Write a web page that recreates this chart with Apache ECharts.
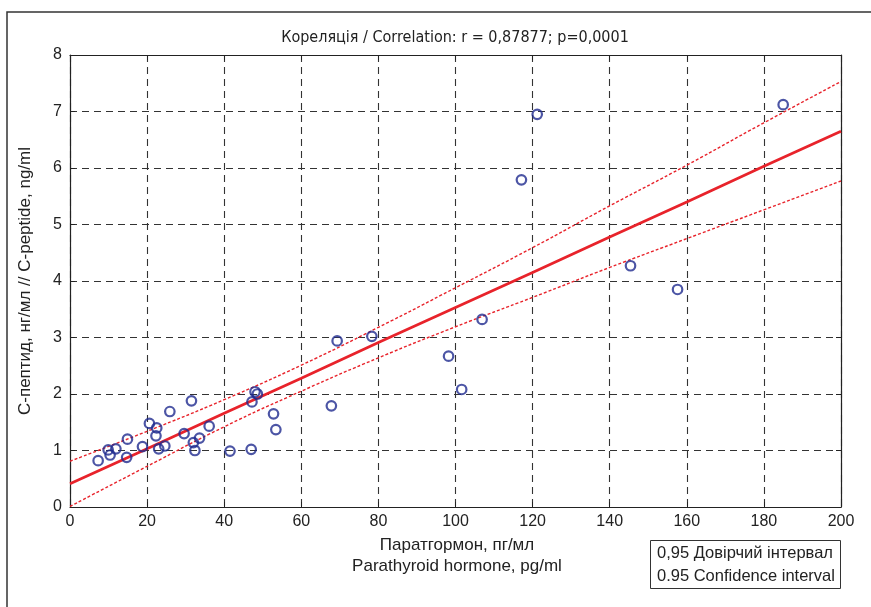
<!DOCTYPE html>
<html>
<head>
<meta charset="utf-8">
<script src="https://cdn.jsdelivr.net/npm/echarts@6/dist/echarts.min.js"></script>
<style>
  html, body { margin: 0; padding: 0; background: #fff; }
  #chart { width: 871px; height: 607px; }
</style>
</head>
<body>
<div id="chart"></div>
<script>
// точки: паратгормон (пг/мл) / С-пептид (нг/мл)
const pthValues = [7.3, 9.9, 10.4, 11.9, 14.7, 14.9, 18.8, 20.6, 22.5, 22.3, 23.0, 24.6, 25.9, 29.6,
  31.5, 32.0, 32.4, 33.6, 36.1, 41.5, 47.0, 47.2, 48.0, 48.6, 52.8, 53.4, 67.8, 69.3, 78.3,
  98.2, 101.6, 106.9, 117.1, 121.2, 145.4, 157.6, 185.0];
const cpepValues = [0.82, 1.01, 0.92, 1.03, 0.88, 1.20, 1.07, 1.48, 1.40, 1.26, 1.03, 1.08, 1.69, 1.30,
  1.88, 1.14, 1.00, 1.22, 1.43, 0.99, 1.02, 1.86, 2.04, 2.00, 1.65, 1.37, 1.79, 2.94, 3.02,
  2.67, 2.08, 3.32, 5.79, 6.95, 4.27, 3.85, 7.12];

// лінія регресії та довірчий інтервал
const fitX = [0, 20, 40, 60, 80, 100, 120, 140, 160, 180, 200];
const fitY = [0.41, 1.03, 1.66, 2.28, 2.91, 3.53, 4.15, 4.78, 5.40, 6.03, 6.65];
const upperY = [0.81, 1.34, 1.90, 2.51, 3.18, 3.88, 4.59, 5.33, 6.05, 6.80, 7.53];
const lowerY = [0.01, 0.72, 1.42, 2.05, 2.64, 3.19, 3.71, 4.24, 4.75, 5.26, 5.77];

const titleText = 'Кореляція / Correlation: r = 0,87877; p=0,0001';
const xNameUa = 'Паратгормон, пг/мл';
const xNameEn = 'Parathyroid hormone, pg/ml';
const yName = 'С-пептид, нг/мл // С-peptide, ng/ml';
const legendLines = ['0,95 Довірчий інтервал', '0.95 Confidence interval'];

const FONT = 'Arial, "Liberation Sans", Helvetica, sans-serif';
const NARROW = '"Liberation Sans Narrow", "Arial Narrow", "DejaVu Sans Condensed", sans-serif';

const zip = (xs, ys) => xs.map((x, i) => [x, ys[i]]);

const chart = echarts.init(document.getElementById('chart'), null, { renderer: 'canvas' });

const gridLine = { show: true, lineStyle: { color: '#333', type: [7, 5], width: 1.1 } };
const axisLine = { show: true, onZero: false, lineStyle: { color: '#222', width: 1.2 } };
const tick = { show: true, inside: true, length: 5, lineStyle: { color: '#222' } };
const label = { color: '#222', fontSize: 16, fontFamily: FONT };

const option = {
  animation: false,
  backgroundColor: '#fff',
  grid: { left: 70, right: 30, top: 55, bottom: 100, containLabel: false },
  xAxis: [
    {
      type: 'value', min: 0, max: 200, interval: 20, position: 'bottom',
      axisLine, axisTick: tick, splitLine: gridLine,
      axisLabel: { ...label, margin: 7 }
    },
    {
      type: 'value', min: 0, max: 200, interval: 20, position: 'top',
      axisLine, axisTick: tick, splitLine: { show: false }, axisLabel: { show: false }
    }
  ],
  yAxis: [
    {
      type: 'value', min: 0, max: 8, interval: 1, position: 'left',
      axisLine, axisTick: tick, splitLine: gridLine,
      axisLabel: { ...label, margin: 8 },
      name: yName, nameLocation: 'middle', nameGap: 36,
      nameTextStyle: { color: '#222', fontSize: 17, fontFamily: FONT }
    },
    {
      type: 'value', min: 0, max: 8, interval: 1, position: 'right',
      axisLine, axisTick: tick, splitLine: { show: false }, axisLabel: { show: false }
    }
  ],
  series: [
    {
      name: 'upper', type: 'line', data: zip(fitX, upperY), smooth: true, symbol: 'none',
      lineStyle: { color: '#e8232b', width: 1.4, type: [3, 2] }, z: 3
    },
    {
      name: 'lower', type: 'line', data: zip(fitX, lowerY), smooth: true, symbol: 'none',
      lineStyle: { color: '#e8232b', width: 1.4, type: [3, 2] }, z: 3
    },
    {
      name: 'fit', type: 'line', data: zip(fitX, fitY), symbol: 'none',
      lineStyle: { color: '#e8232b', width: 2.8 }, z: 4
    },
    {
      name: 'points', type: 'scatter', data: zip(pthValues, cpepValues),
      symbol: 'circle', symbolSize: 9.5,
      itemStyle: { color: 'rgba(255,255,255,0)', borderColor: '#1f2a8f', borderWidth: 2.2 },
      z: 5
    }
  ],
  graphic: [
    {
      type: 'rect', silent: true,
      shape: { x: 7, y: 12, width: 900, height: 700 },
      style: { fill: 'none', stroke: '#333', lineWidth: 1.5 }
    },
    {
      type: 'text', x: 455, y: 38,
      style: { text: titleText, font: '16px ' + NARROW, fill: '#222', textAlign: 'center', textVerticalAlign: 'middle' }
    },
    {
      type: 'text', x: 457, y: 545,
      style: { text: xNameUa, font: '17px ' + FONT, fill: '#222', textAlign: 'center', textVerticalAlign: 'middle' }
    },
    {
      type: 'text', x: 457, y: 566,
      style: { text: xNameEn, font: '17px ' + FONT, fill: '#222', textAlign: 'center', textVerticalAlign: 'middle' }
    },
    {
      type: 'rect', silent: true,
      shape: { x: 650.5, y: 540.5, width: 190, height: 48 },
      style: { fill: '#fff', stroke: '#333', lineWidth: 1 }
    },
    {
      type: 'text', x: 657, y: 553,
      style: { text: legendLines[0], font: '16.5px ' + FONT, fill: '#222', textAlign: 'left', textVerticalAlign: 'middle' }
    },
    {
      type: 'text', x: 657, y: 576,
      style: { text: legendLines[1], font: '16.5px ' + FONT, fill: '#222', textAlign: 'left', textVerticalAlign: 'middle' }
    }
  ]
};

chart.setOption(option);
</script>
</body>
</html>
